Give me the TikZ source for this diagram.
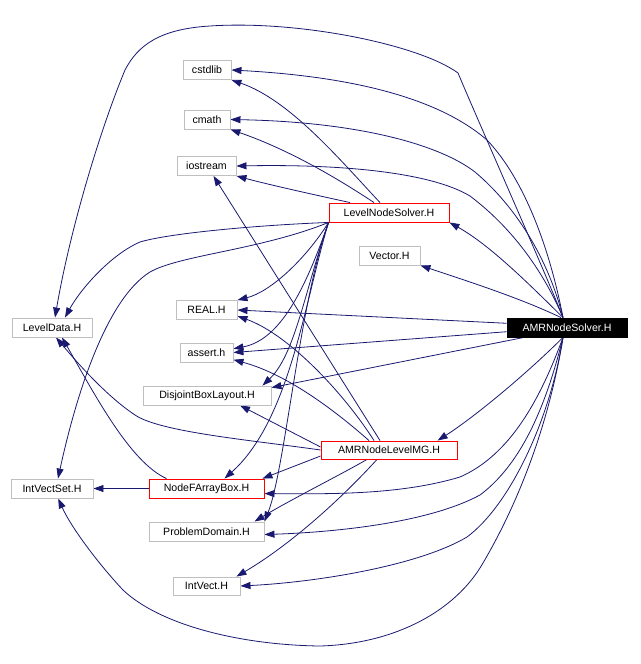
\documentclass[tikz,border=0pt]{standalone}
\usepackage{fontspec}
\setmainfont{Liberation Sans}
\usetikzlibrary{arrows.meta}
\definecolor{edgec}{HTML}{191970}
\definecolor{boxgray}{HTML}{BFBFBF}
\pgfdeclarelayer{bg}
\pgfsetlayers{bg,main}
\tikzset{
  filebox/.style={draw=boxgray, line width=0.9pt, rectangle, inner sep=0pt, minimum height=19pt, fill=white, text=black, font=\fontsize{10.6}{12}\selectfont},
  redbox/.style={filebox, draw=red},
  mainbox/.style={filebox, draw=black, fill=black, text=white},
  dep/.style={draw=edgec, line width=0.8pt, -{Triangle[length=10pt,width=7pt]}},
}
\begin{document}
\begin{tikzpicture}[x=1pt,y=-1pt]
\useasboundingbox (0,0) rectangle (640,664);
\node[filebox, minimum width=48pt] (cstdlib) at (207,70) {cstdlib};
\node[filebox, minimum width=46pt] (cmath) at (207,119.5) {cmath};
\node[filebox, minimum width=59pt] (iostream) at (206.5,166) {iostream};
\node[redbox, minimum width=120pt] (lns) at (389,212.5) {LevelNodeSolver.H};
\node[filebox, minimum width=61pt] (vector) at (389.5,255.5) {Vector.H};
\node[mainbox, minimum width=120pt] (amrs) at (567,327.5) {AMRNodeSolver.H};
\node[filebox, minimum width=80pt] (ld) at (52,327.5) {LevelData.H};
\node[filebox, minimum width=61pt] (real) at (206.5,310) {REAL.H};
\node[filebox, minimum width=53pt] (assert) at (206.5,352.5) {assert.h};
\node[filebox, minimum width=128pt] (dbl) at (207,395.5) {DisjointBoxLayout.H};
\node[redbox, minimum width=136pt, minimum height=18pt] (amg) at (389,450) {AMRNodeLevelMG.H};
\node[filebox, minimum width=82pt] (ivs) at (52,488.5) {IntVectSet.H};
\node[redbox, minimum width=115pt] (nfab) at (206.5,488.5) {NodeFArrayBox.H};
\node[filebox, minimum width=115pt] (pd) at (206.5,531.5) {ProblemDomain.H};
\node[filebox, minimum width=67pt, minimum height=18pt] (intvect) at (206.5,586) {IntVect.H};
\begin{pgfonlayer}{bg}
% AMRNodeSolver.H
\draw[dep] ([xshift=-4pt]amrs.north) .. controls (540,260) and (482,130) .. (458,73) .. controls (420,45) and (300,20) .. (210,26) .. controls (160,29) and (138,45) .. (125,70) .. controls (100,130) and (70,230) .. ([xshift=3pt]ld.north);
\draw[dep] ([xshift=-4pt]amrs.north) .. controls (550,250) and (525,180) .. (487,140) .. controls (450,108) and (380,78) .. (cstdlib.east);
\draw[dep] ([xshift=-4pt]amrs.north) .. controls (550,265) and (520,210) .. (475,172) .. controls (440,145) and (360,122) .. (cmath.east);
\draw[dep] ([xshift=-4pt]amrs.north) .. controls (545,275) and (515,230) .. (470,196) .. controls (430,172) and (340,164) .. (iostream.east);
\draw[dep] ([xshift=-4pt]amrs.north) .. controls (530,285) and (490,245) .. (lns.south east);
\draw[dep] ([xshift=-6pt]amrs.north) .. controls (520,298) and (470,282) .. (vector.south east);
\draw[dep] (amrs.176) -- (real.east);
\draw[dep] (amrs.184) -- (assert.east);
\draw[dep] (amrs.193) -- (dbl.7);
\draw[dep] ([xshift=-4pt]amrs.south) .. controls (520,380) and (470,420) .. (amg.11);
\draw[dep] ([xshift=-4pt]amrs.south) .. controls (540,400) and (510,455) .. (460,477) .. controls (400,495) and (330,494) .. (nfab.-5);
\draw[dep] ([xshift=-4pt]amrs.south) .. controls (545,410) and (520,465) .. (480,495) .. controls (430,522) and (340,532) .. (pd.-3);
\draw[dep] ([xshift=-4pt]amrs.south) .. controls (550,420) and (510,505) .. (467,537) .. controls (420,565) and (320,582) .. (intvect.east);
\draw[dep] ([xshift=-4pt]amrs.south) .. controls (548,430) and (515,510) .. (480,568) .. controls (450,615) and (390,644) .. (320,646) .. controls (240,645) and (160,625) .. (123,590) .. controls (95,560) and (70,525) .. (ivs.-58);
% LevelNodeSolver.H
\draw[dep] ([xshift=-9pt]lns.north) .. controls (340,160) and (290,100) .. (cstdlib.south east);
\draw[dep] ([xshift=-15pt]lns.north) .. controls (340,180) and (290,150) .. (cmath.south east);
\draw[dep] ([xshift=-39pt]lns.north) .. controls (320,196) and (270,185) .. (iostream.south east);
\draw[dep] (lns.south west) .. controls (260,225) and (170,233) .. (140,242) .. controls (110,255) and (80,290) .. ([xshift=13pt]ld.north);
\draw[dep] (lns.south west) .. controls (260,250) and (180,255) .. (150,272) .. controls (105,300) and (75,400) .. ([xshift=6pt]ivs.north);
\draw[dep] (lns.south west) .. controls (305,260) and (270,292) .. (real.north east);
\draw[dep] (lns.south west) .. controls (305,290) and (280,340) .. (assert.8);
\draw[dep] (lns.south west) .. controls (305,290) and (295,355) .. ([xshift=-9pt]dbl.north east);
\draw[dep] (lns.south west) .. controls (305,300) and (290,420) .. ([xshift=18pt]nfab.north);
\draw[dep] (lns.south west) .. controls (300,300) and (285,470) .. (pd.north east);
% AMRNodeLevelMG.H
\draw[dep] ([xshift=-9pt]amg.north) -- ([xshift=7pt]iostream.south);
\draw[dep] ([xshift=-15pt]amg.north) .. controls (345,395) and (290,335) .. (real.-11);
\draw[dep] ([xshift=-20pt]amg.north) .. controls (340,415) and (290,375) .. (assert.-15);
\draw[dep] ([yshift=3pt]amg.west) -- ([xshift=33pt]dbl.south);
\draw[dep] (amg.west) .. controls (250,440) and (160,432) .. (135,415) .. controls (105,395) and (75,360) .. ([xshift=4pt]ld.south);
\draw[dep] ([yshift=-6pt]amg.west) -- ([xshift=-2pt]nfab.north east);
\draw[dep] ([xshift=-22pt]amg.south) .. controls (340,475) and (290,500) .. ([xshift=48pt]pd.north);
\draw[dep] ([xshift=-12pt]amg.south) .. controls (340,500) and (290,545) .. ([xshift=-4pt]intvect.north east);
% NodeFArrayBox.H
\draw[dep] (nfab.west) -- (ivs.east);
\draw[dep] ([xshift=-40pt]nfab.north) .. controls (130,462) and (95,395) .. ([xshift=10pt]ld.south);
\end{pgfonlayer}
\end{tikzpicture}
\end{document}
